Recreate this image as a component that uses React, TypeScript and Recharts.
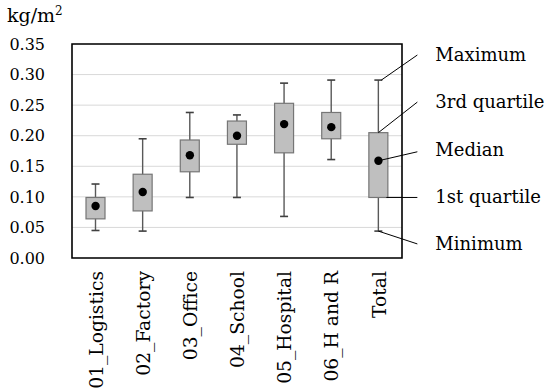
import React from 'react';
import { ComposedChart, Bar, Scatter, XAxis, YAxis, CartesianGrid, ReferenceArea } from 'recharts';

const categories = ['01_Logistics', '02_Factory', '03_Office', '04_School', '05_Hospital', '06_H and R', 'Total'];
const minimum = [0.045, 0.044, 0.099, 0.099, 0.068, 0.161, 0.044];
const q1 = [0.064, 0.077, 0.141, 0.186, 0.172, 0.195, 0.099];
const median = [0.085, 0.108, 0.168, 0.2, 0.219, 0.214, 0.159];
const q3 = [0.099, 0.137, 0.193, 0.224, 0.253, 0.238, 0.205];
const maximum = [0.121, 0.195, 0.238, 0.234, 0.286, 0.291, 0.291];
const yTicks = [0, 0.05, 0.1, 0.15, 0.2, 0.25, 0.3, 0.35];
const annotationLabels = ['Maximum', '3rd quartile', 'Median', '1st quartile', 'Minimum'];
const annotationLabelValues = [0.332, 0.255, 0.177, 0.1, 0.023];
const unitLabel = 'kg/m';

const data = categories.map((name, i) => ({
  name,
  range: [minimum[i], maximum[i]],
  min: minimum[i],
  q1: q1[i],
  median: median[i],
  q3: q3[i],
  max: maximum[i],
}));

const FONT = '"DejaVu Serif", serif';

const BoxShape = (props: any) => {
  const { x, y, width, height, payload } = props;
  if (x == null || y == null) return null;
  const top = Math.min(y, y + height);
  const bot = Math.max(y, y + height);
  const cx = x + width / 2;
  const lo = payload.min;
  const hi = payload.max;
  const px = (v: number) => bot - ((v - lo) / (hi - lo)) * (bot - top);
  const bw = 19;
  const cap = 8;
  const isLast = payload.name === categories[categories.length - 1];
  const lineEnd = cx + 39;
  const textX = cx + 57;
  const starts = [
    [cx + 3, px(payload.max)],
    [cx, px(payload.q3)],
    [cx, px(payload.median)],
    [cx + 8, px(payload.q1)],
    [cx, px(payload.min)],
  ];
  return (
    <g>
      <line x1={cx} x2={cx} y1={px(payload.max)} y2={px(payload.min)} stroke="#595959" strokeWidth={1.4} />
      <line x1={cx - cap / 2} x2={cx + cap / 2} y1={px(payload.max)} y2={px(payload.max)} stroke="#404040" strokeWidth={1.6} />
      <line x1={cx - cap / 2} x2={cx + cap / 2} y1={px(payload.min)} y2={px(payload.min)} stroke="#404040" strokeWidth={1.6} />
      <rect x={cx - bw / 2} y={px(payload.q3)} width={bw} height={px(payload.q1) - px(payload.q3)} fill="#bfbfbf" stroke="#767676" strokeWidth={1.2} />
      {isLast &&
        annotationLabels.map((lab, i) => {
          const ly = px(annotationLabelValues[i]);
          const [sx, sy] = starts[i];
          const ey = i === 3 ? sy : ly + (i === 2 ? 2 : 0);
          return (
            <g key={lab}>
              <line x1={sx} y1={sy} x2={lineEnd} y2={ey} stroke="#000" strokeWidth={1} />
              <text x={textX} y={ly} dy="0.35em" fontFamily={FONT} fontSize={18} fill="#000">
                {lab}
              </text>
            </g>
          );
        })}
    </g>
  );
};

const MedianDot = (props: any) => {
  const { cx, cy } = props;
  if (cx == null || cy == null) return null;
  return <circle cx={cx} cy={cy} r={4.2} fill="#000" />;
};

const XTick = (props: any) => {
  const { x, y, payload } = props;
  return (
    <text
      x={x}
      y={y}
      transform={`rotate(-90 ${x} ${y})`}
      textAnchor="end"
      dy="0.38em"
      fontFamily={FONT}
      fontSize={18.7}
      fill="#000"
    >
      {payload.value}
    </text>
  );
};

export default function App() {
  return (
    <div style={{ position: 'absolute', left: 0, top: 0, width: 550, height: 388, background: '#fff' }}>
      <div
        style={{
          position: 'absolute',
          left: 7,
          top: 5,
          fontFamily: FONT,
          fontSize: 19,
          lineHeight: '20px',
          color: '#000',
          whiteSpace: 'nowrap',
        }}
      >
        {unitLabel}
        <span style={{ fontSize: 12, position: 'relative', top: -7 }}>2</span>
      </div>
      <ComposedChart
        width={550}
        height={388}
        data={data}
        margin={{ top: 44, right: 148, bottom: 0, left: 12 }}
        barCategoryGap={0}
      >
        <CartesianGrid vertical={false} stroke="#d9d9d9" strokeWidth={1} />
        <XAxis
          dataKey="name"
          type="category"
          interval={0}
          height={130}
          axisLine={false}
          tickLine={false}
          tickSize={0}
          tickMargin={13}
          tick={<XTick />}
        />
        <YAxis
          type="number"
          domain={[0, 0.35]}
          ticks={yTicks}
          width={60}
          axisLine={false}
          tickLine={false}
          tickSize={0}
          tickMargin={27}
          tickFormatter={(v: number) => v.toFixed(2)}
          tick={{ fontFamily: FONT, fontSize: 16, fill: '#000' }}
        />
        <ReferenceArea y1={0} y2={0.35} fill="none" stroke="#000" strokeWidth={1.6} ifOverflow="visible" />
        <Bar dataKey="range" isAnimationActive={false} shape={<BoxShape />} />
        <Scatter dataKey="median" isAnimationActive={false} shape={<MedianDot />} />
      </ComposedChart>
    </div>
  );
}
